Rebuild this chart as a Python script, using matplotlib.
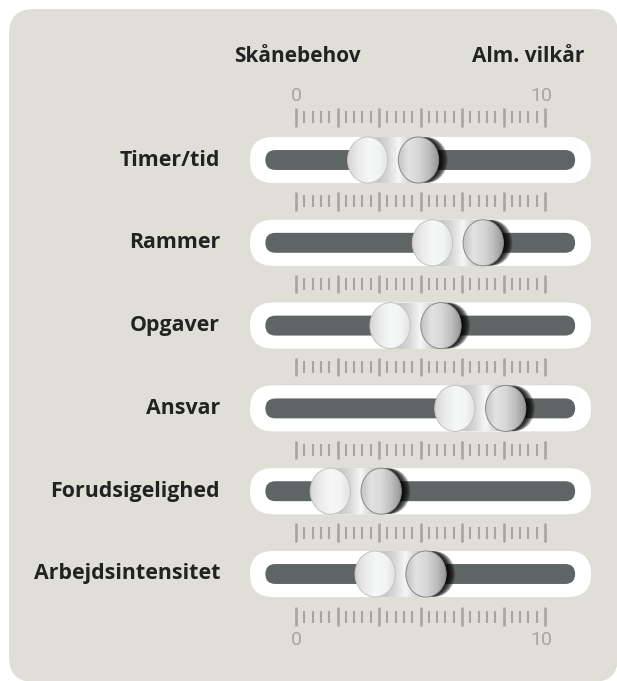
import numpy as np
import matplotlib
matplotlib.use("Agg")
import matplotlib.pyplot as plt
from matplotlib.patches import FancyBboxPatch, Ellipse, Rectangle
from matplotlib.colors import to_rgb

# data
labels = ['Timer/tid', 'Rammer', 'Opgaver', 'Ansvar', 'Forudsigelighed', 'Arbejdsintensitet']
values = [3.9, 6.5, 4.8, 7.4, 2.4, 4.2]
scale_min, scale_max = 0, 10
left_title = 'Skånebehov'
right_title = 'Alm. vilkår'

# farver
panel_col = '#dfdfd7'
bar_col = '#5f6464'
tick_col = '#a6a69f'
text_col = '#222222'

W, H = 617, 681
U = 24.9                # pixels per scale unit
X0, Y0 = 296, 160       # pixel position of value 0 / first row
ROW = 82.8 / U          # row spacing in units

fig = plt.figure(figsize=(W / 100, H / 100), dpi=100)
fig.patch.set_facecolor('white')
ax = fig.add_axes([0, 0, 1, 1])
ax.set_xlim(-X0 / U, (W - X0) / U)
ax.set_ylim((H - Y0) / U, -Y0 / U)
ax.axis('off')

# baggrundspanel
ax.add_patch(FancyBboxPatch(((9 - X0) / U, (9 - Y0) / U), 609 / U, 673 / U,
                            boxstyle='round,pad=0,rounding_size=1.0',
                            fc=panel_col, ec='none', zorder=0))

rows = np.arange(len(labels)) * ROW
pill_l, pill_r, pill_h = -1.85, 11.85, 1.85
bar_l, bar_r, bar_h = -1.23, 11.21, 0.80
kw, kh, koff = 1.62, 1.85, 1.02


def gradient(colors, x0, x1, y0, y1, clip, z):
    cols = np.array([to_rgb(c) for c in colors])
    t = np.linspace(0, 1, 200)
    arr = np.stack([np.interp(t, np.linspace(0, 1, len(cols)), cols[:, k]) for k in range(3)], axis=-1)
    im = ax.imshow(arr[None, :, :], extent=(x0, x1, y1, y0), aspect='auto',
                   interpolation='bilinear', zorder=z)
    im.set_clip_path(clip)


# linealer
ticks = np.linspace(scale_min, scale_max, 31)
ruler_y = [rows[0] - 1.71] + list((rows[:-1] + rows[1:]) / 2) + [rows[-1] + 1.71]
for ry in ruler_y:
    for k, tx in enumerate(ticks):
        major = k % 5 == 0
        half = 0.37 if major else 0.24
        ax.plot([tx, tx], [ry - half, ry + half], color=tick_col,
                lw=1.9 if major else 1.5, solid_capstyle='butt', zorder=2)

num_font = dict(fontsize=14, color=tick_col, family='Roboto', weight='normal')
for lab_y in (rows[0] - 2.59, rows[-1] + 2.65):
    ax.text(scale_min, lab_y, str(scale_min), ha='center', va='center', **num_font)
    ax.text(scale_max - 0.15, lab_y, str(scale_max), ha='center', va='center', **num_font)

head_font = dict(fontsize=15, weight='bold', color=text_col, family='Open Sans')
ax.text(0.05, rows[0] - 4.14, left_title, ha='center', va='center', **head_font)
ax.text(11.6, rows[0] - 4.14, right_title, ha='right', va='center', **head_font)

for y, lab, v in zip(rows, labels, values):
    ax.text(-3.05, y, lab, ha='right', va='center', fontsize=15.4, weight='bold',
            color=text_col, family='Open Sans')
    # spor
    ax.add_patch(FancyBboxPatch((pill_l, y - pill_h / 2), pill_r - pill_l, pill_h,
                                boxstyle=f'round,pad=0,rounding_size={pill_h / 2}',
                                fc='white', ec='none', zorder=3))
    ax.add_patch(FancyBboxPatch((bar_l, y - bar_h / 2), bar_r - bar_l, bar_h,
                                boxstyle=f'round,pad=0,rounding_size={bar_h / 2}',
                                fc=bar_col, ec='none', zorder=4))
    # skygge
    for s in np.linspace(0.03, 0.36, 9):
        ax.add_patch(Ellipse((v + koff + s, y), kw, kh * 0.99, fc='black', ec='none',
                             alpha=0.22, zorder=5))
    # forbindelse mellem knapper
    conn = Rectangle((v - koff, y - kh / 2), 2 * koff, kh, fc='none', ec='none', zorder=6)
    ax.add_patch(conn)
    gradient(['#e4e4e4', '#c9c9c9', '#d9d9d9', '#f7f7f7', '#d4d4d4', '#b4b4b4'],
             v - koff, v + koff, y - kh / 2, y + kh / 2, conn, 6)
    # venstre knap
    e1 = Ellipse((v - koff, y), kw, kh, fc='none', ec='#c2c2c2', lw=0.7, zorder=8)
    ax.add_patch(e1)
    gradient(['#d6d6d6', '#ebebeb', '#f6f7f7', '#f3f4f4', '#e0e0e0'],
             v - koff - kw / 2, v - koff + kw / 2, y - kh / 2, y + kh / 2, e1, 7)
    # hoejre knap
    e2 = Ellipse((v + koff, y), kw, kh, fc='none', ec='#8a8a8a', lw=0.7, zorder=8)
    ax.add_patch(e2)
    gradient(['#c2c2c2', '#e2e2e2', '#d8d8d8', '#bdbdbd', '#959595'],
             v + koff - kw / 2, v + koff + kw / 2, y - kh / 2, y + kh / 2, e2, 7)

fig.savefig('out.png', dpi=100, facecolor='white')
